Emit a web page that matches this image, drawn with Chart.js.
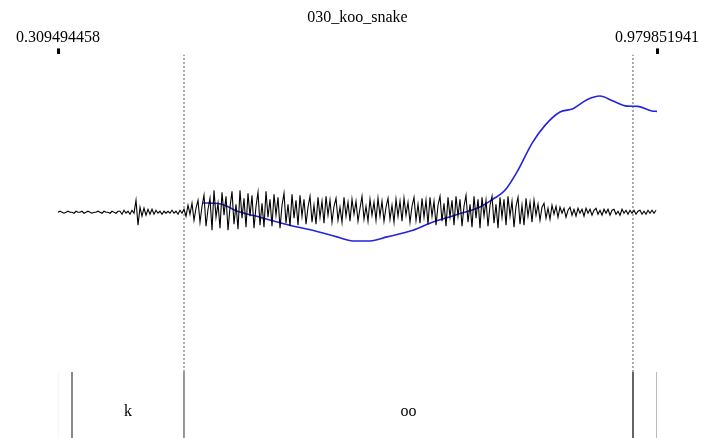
<!DOCTYPE html>
<html>
<head>
<meta charset="utf-8">
<script src="https://cdn.jsdelivr.net/npm/chart.js@4/dist/chart.umd.min.js"></script>
<style>
  html, body { margin: 0; padding: 0; background: #fff; }
  #wrap { width: 703px; height: 438px; position: relative; }
</style>
</head>
<body>
<div id="wrap"><canvas id="view-canvas"></canvas></div>
<script>
var canvas = document.getElementById('view-canvas');

// time range of the selection (s)
var tStart = 0.309494458;
var tEnd = 0.979851941;

// waveform: one sample every waveStep seconds from tStart (amplitude, arbitrary units)
var waveStep = 0.0022383;
var waveAmp = [
    0, 1, 0, -1, 0, 1, 0, 0, -1, 1, 0, 0, 1, -1, 0, 1, 0, -1, 0, 0, 1, 0, -1, 1, 0, 0, -1, 1, 0, -1, 1,
    1, -2, 2, -1, 1, -2, 2, -1,
    12, -13, 5, -4, 4, -3, 3, -2, 3, -2, 2, -1, 1, -2, 1, -1, 1, -1, 2, -1, 1, -2, 2, -1,
    3, -4, 7, -2, 9, -8, 4, 12, -10, 6, 17, -14, 3, 14, -18, 22, -5, 9, -16, 20,
    -3, 16, -18, 5, 21, -12, 8, -17, 22, -6, 14, -15, 19, -4, 17, -16, 6, 20, -13, 9,
    -15, 21, -5, 13, -14, 18, -3, 15, -16, 7, 19, -11, 8, -14, 18, -6, 12, -13, 17, -4,
    13, -12, 5, 16, -10, 7, -12, 15, -5, 11, -11, 16, -3, 12, -10, 6, 14, -8, 5, -10,
    15, -4, 10, -9, 13, -2, 11, -9, 4, 16, -7, 6, -9, 13, -3, 10, -8, 14, -4, 11,
    -9, 5, 14, -7, 7, -10, 13, -4, 11, -9, 14, -3, 10, -10, 6, 15, -8, 8, -11, 14,
    -5, 12, -12, 15, -4, 11, -13, 7, 16, -9, 9, -14, 15, -5, 12, -13, 16, -4, 13, -14,
    6, 17, -10, 8, -15, 16, -6, 13, -16, 15, -4, 12, -14, 7, 16, -11, 8, -16, 15, -5,
    13, -13, 16, -4, 11, -15, 6, 15, -12, 7, -13, 14, -4, 10, -10, 12, -3, 8, -8, 5,
    9, -6, 4, -7, 7, -2, 6, -5, 5, -1, 4, -5, 2, 5, -3, 3, -4, 4, -1, 3,
    -4, 4, -1, 3, -3, 2, 4, -2, 2, -3, 3, -1, 3, -3, 2, 3, -2, 1, -3, 3,
    -1, 2, -2, 2, -1, 2, -2, 1, 2, -2, 1, -2, 2, -1, 2, -1, 2
];

// pitch contour (time s, Hz)
var pitchTime = [0.47177, 0.48855, 0.49863, 0.50758, 0.53556, 0.56913, 0.60271, 0.62173, 0.63964,
    0.65866, 0.67769, 0.70678, 0.72581, 0.75379, 0.78176, 0.79631, 0.80974, 0.82429, 0.83996,
    0.85451, 0.87130, 0.88585, 0.90151, 0.91606, 0.93061, 0.94628, 0.95859, 0.97426, 0.97985];
var pitchHz = [245.1, 244.5, 241.7, 237.5, 230.2, 221.9, 214.6, 209.7, 205.5,
    205.5, 209.7, 216.7, 224.0, 232.3, 240.9, 249.0, 258.3, 279.2, 307.3,
    326.0, 339.9, 343.4, 352.8, 356.6, 351.4, 346.1, 345.8, 340.9, 340.6];

// text tier
var tierBounds = [0.309494458, 0.32516, 0.45050, 0.95298, 0.979851941];
var tierColors = ['#f0f0f0', '#8a8a8a', '#333333', '#333333', '#bbbbbb'];
var tierWidths = [1, 2, 1, 1.5, 2];
var tierLabels = ['', 'k', 'oo', ''];

var serif = "'Liberation Serif', 'Times New Roman', serif";

function buildDatasets() {
    var sets = [];
    var wave = [];
    waveAmp.forEach((a, i) => {
        wave.push({ x: tStart + i * waveStep, y: a });
    });
    sets.push({ data: wave, yAxisID: 'yWave', borderColor: '#000', borderWidth: 1.1, pointRadius: 0 });

    var pitch = [];
    pitchTime.forEach((t, i) => {
        pitch.push({ x: t, y: pitchHz[i] });
    });
    sets.push({ data: pitch, yAxisID: 'yPitch', borderColor: 'rgb(35, 35, 225)', borderWidth: 1.6,
        pointRadius: 0, cubicInterpolationMode: 'monotone' });

    // interval boundaries in the tier
    tierBounds.forEach((t, i) => {
        sets.push({ data: [{ x: t, y: 0 }, { x: t, y: 0.172 }], yAxisID: 'yFrac',
            borderColor: tierColors[i], borderWidth: tierWidths[i], pointRadius: 0 });
    });
    // dotted lines up through the sound for the inner boundaries
    [tierBounds[2], tierBounds[3]].forEach(t => {
        sets.push({ data: [{ x: t, y: 0.172 }, { x: t, y: 1.0 }], yAxisID: 'yFrac',
            borderColor: '#555', borderWidth: 1, borderDash: [2, 2], pointRadius: 0 });
    });
    return sets;
}

// write interval labels in the middle of each interval
var tierText = {
    id: 'tierText',
    afterDatasetsDraw(chart) {
        var c = chart.ctx;
        var xs = chart.scales.x;
        var ys = chart.scales.yFrac;
        c.save();
        c.font = '16px ' + serif;
        c.fillStyle = '#000';
        c.textAlign = 'center';
        c.textBaseline = 'middle';
        tierLabels.forEach((lab, i) => {
            if (!lab) return;
            var mid = (xs.getPixelForValue(tierBounds[i]) + xs.getPixelForValue(tierBounds[i + 1])) / 2;
            c.fillText(lab, mid, ys.getPixelForValue(0.068));
        });
        c.restore();
    }
};

function rendererMain() {
    const config = {
        type: 'line',
        data: { datasets: buildDatasets() },
        options: {
            responsive: true,
            maintainAspectRatio: false,
            animation: false,
            layout: { padding: { left: 58, right: 46, top: 0, bottom: 0 } },
            scales: {
                x: {
                    type: 'linear',
                    position: 'top',
                    min: tStart,
                    max: tEnd,
                    afterBuildTicks: axis => {
                        axis.ticks = [{ value: tStart }, { value: tEnd }];
                    },
                    grid: { drawOnChartArea: false, drawTicks: true, tickLength: 6, tickWidth: 3, tickColor: '#000' },
                    border: { display: false },
                    ticks: {
                        autoSkip: false,
                        maxRotation: 0,
                        padding: 1,
                        color: '#000',
                        font: { family: serif, size: 16 },
                        callback: v => v.toFixed(9)
                    }
                },
                yWave: { display: false, min: -226, max: 158 },
                yPitch: { display: false, min: 0, max: 400 },
                yFrac: { display: false, min: 0, max: 1 }
            },
            plugins: {
                legend: { display: false },
                tooltip: { enabled: false },
                title: {
                    display: true,
                    text: '030_koo_snake',
                    color: '#000',
                    font: { family: serif, size: 16, weight: 'normal' },
                    padding: { top: 8, bottom: 0 }
                }
            }
        },
        plugins: [tierText]
    };
    new Chart(canvas, config);
}

rendererMain();
</script>
</body>
</html>
